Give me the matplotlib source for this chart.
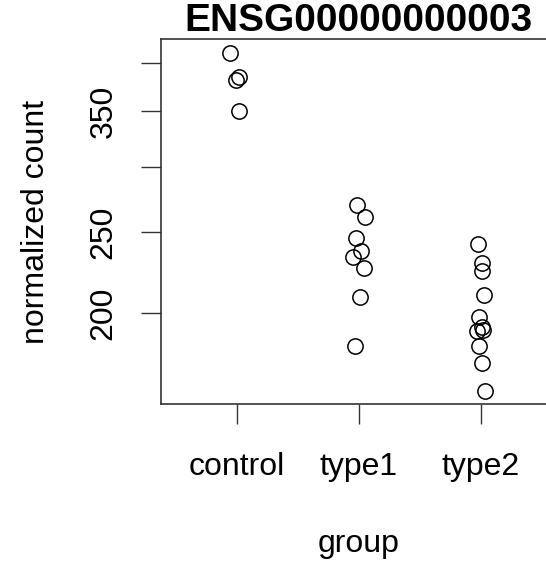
import matplotlib
matplotlib.use("Agg")
import matplotlib.pyplot as plt
from matplotlib.ticker import FixedLocator, FixedFormatter, NullLocator

# data (x includes the jitter of the original plot)
groups = ["control", "type1", "type2"]
control_x = [0.948, 0.995, 1.022, 1.022]
control_y = [411.6, 381.6, 384.4, 350.2]
type1_x = [1.987, 2.047, 1.979, 2.020, 1.951, 2.039, 2.006, 1.967]
type1_y = [269.8, 261.2, 246.4, 237.7, 233.4, 226.8, 209.2, 182.5]
type2_x = [2.973, 3.011, 3.011, 3.025, 2.984, 3.006, 2.965, 3.019, 2.986, 3.006, 3.033]
type2_y = [242.2, 229.5, 224.9, 210.2, 197.6, 192.5, 190.4, 190.8, 182.5, 174.0, 161.2]
y_ticks = [200, 250, 300, 350, 400]
y_labels = ["200", "250", "", "350", ""]

plt.rcParams["font.family"] = ["Liberation Sans", "DejaVu Sans"]

fig = plt.figure(figsize=(5.46, 5.61), dpi=100)
ax = fig.add_axes([0.2949, 0.2799, 0.7247, 0.6506])

for xs, ys in [(control_x, control_y), (type1_x, type1_y), (type2_x, type2_y)]:
    ax.plot(xs, ys, linestyle="none", marker="o", markersize=11,
            markerfacecolor="none", markeredgecolor="black", markeredgewidth=1.1)

ax.set_yscale("log")
ax.set_xlim(0.38, 3.62)
ax.set_ylim(155.4, 427.5)

ax.yaxis.set_major_locator(FixedLocator(y_ticks))
ax.yaxis.set_major_formatter(FixedFormatter(y_labels))
ax.yaxis.set_minor_locator(NullLocator())
ax.set_xticks([1, 2, 3])
ax.set_xticklabels(groups)

for lab in ax.get_yticklabels():
    lab.set_rotation(90)
    lab.set_va("center")

ax.tick_params(axis="both", direction="out", length=14.5, width=1.0, labelsize=23, color="#333333")
ax.tick_params(axis="x", pad=20)
ax.tick_params(axis="y", pad=16)
for side in ["left", "bottom", "top", "right"]:
    ax.spines[side].set_linewidth(1.2)
    ax.spines[side].set_color("#333333")

ax.set_title("ENSG00000000003", fontsize=28, fontweight="bold", pad=3)
ax.set_xlabel("group", fontsize=23, labelpad=34)
ax.set_ylabel("normalized count", fontsize=23, labelpad=27)

fig.savefig("out.png", dpi=100)
